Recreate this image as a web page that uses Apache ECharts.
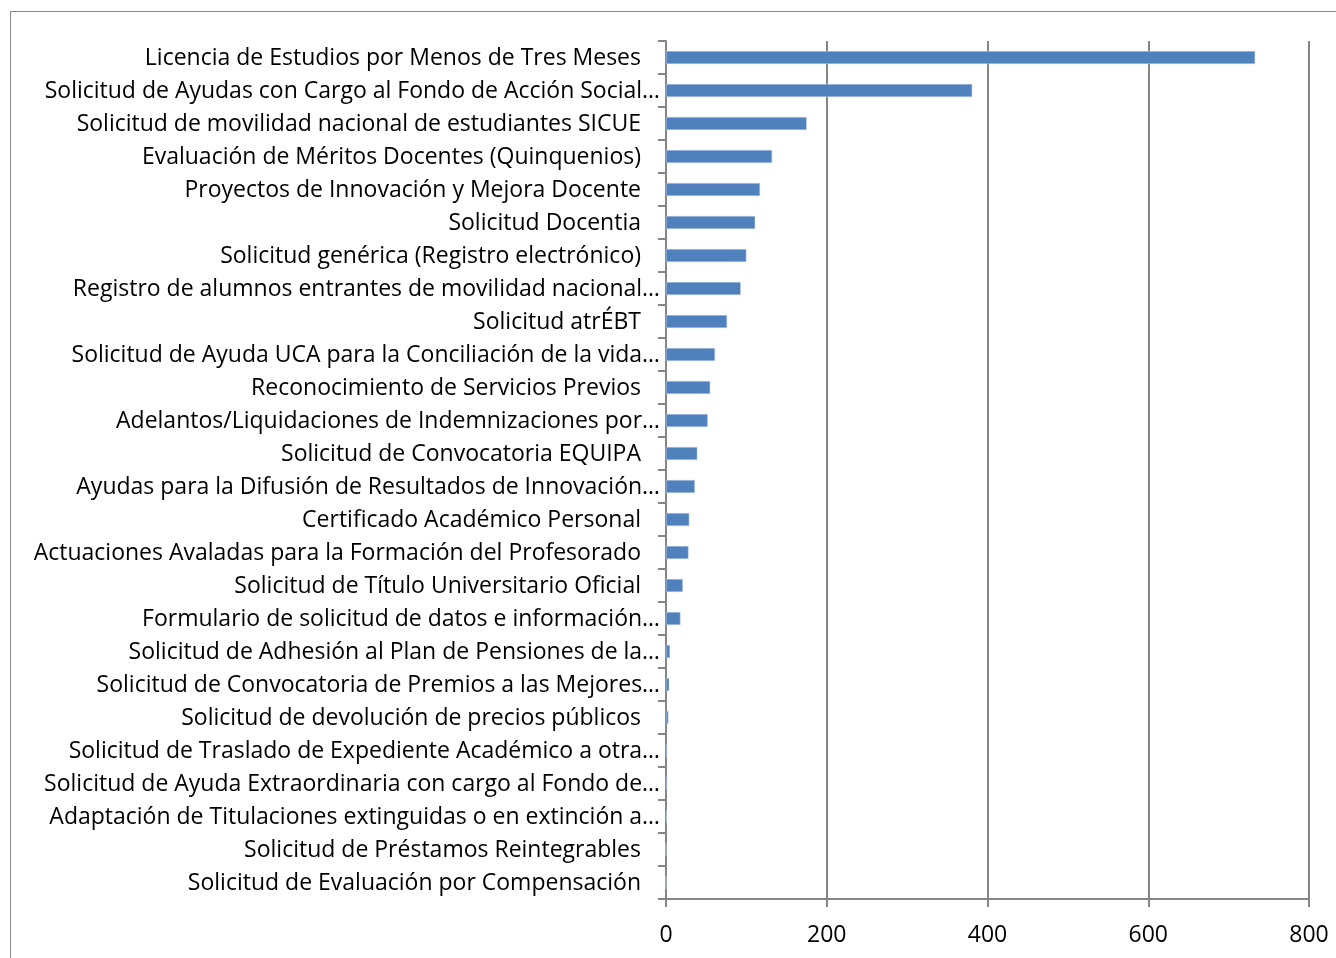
<!DOCTYPE html>
<html>
<head>
<meta charset="utf-8">
<script src="https://cdn.jsdelivr.net/npm/echarts@6/dist/echarts.min.js"></script>
<style>
  html, body { margin: 0; padding: 0; background: #fff; }
  #chart { width: 1336px; height: 958px; }
</style>
</head>
<body>
<div id="chart"></div>
<script>
// categories top to bottom, as shown (long ones are cut off in the original)
const categories = [
  'Licencia de Estudios por Menos de Tres Meses',
  'Solicitud de Ayudas con Cargo al Fondo de Acción Social…',
  'Solicitud de movilidad nacional de estudiantes SICUE',
  'Evaluación de Méritos Docentes (Quinquenios)',
  'Proyectos de Innovación y Mejora Docente',
  'Solicitud Docentia',
  'Solicitud genérica (Registro electrónico)',
  'Registro de alumnos entrantes de movilidad nacional…',
  'Solicitud atrÉBT',
  'Solicitud de Ayuda UCA para la Conciliación de la vida…',
  'Reconocimiento de Servicios Previos',
  'Adelantos/Liquidaciones de Indemnizaciones por…',
  'Solicitud de Convocatoria EQUIPA',
  'Ayudas para la Difusión de Resultados de Innovación…',
  'Certificado Académico Personal',
  'Actuaciones Avaladas para la Formación del Profesorado',
  'Solicitud de Título Universitario Oficial',
  'Formulario de solicitud de datos e información…',
  'Solicitud de Adhesión al Plan de Pensiones de la…',
  'Solicitud de Convocatoria de Premios a las Mejores…',
  'Solicitud de devolución de precios públicos',
  'Solicitud de Traslado de Expediente Académico a otra…',
  'Solicitud de Ayuda Extraordinaria con cargo al Fondo de…',
  'Adaptación de Titulaciones extinguidas o en extinción a…',
  'Solicitud de Préstamos Reintegrables',
  'Solicitud de Evaluación por Compensación'
];
const values = [733, 381, 175, 132, 117, 111, 100, 93, 76, 61, 55, 52, 39, 36, 29, 28, 21, 18, 5, 4, 3, 1.5, 1.5, 1, 0, 0];
const xTicks = [0, 200, 400, 600, 800];

const chart = echarts.init(document.getElementById('chart'));

const option = {
  animation: false,
  textStyle: { fontFamily: 'Open Sans' },
  graphic: [
    { // outer chart-area frame
      type: 'rect',
      shape: { x: 10.5, y: 11.5, width: 1400, height: 1000 },
      style: { fill: 'none', stroke: '#868686', lineWidth: 1 }
    }
  ],
  grid: { left: 666, right: 27, top: 41, bottom: 59 },
  xAxis: {
    type: 'value',
    min: xTicks[0],
    max: xTicks[xTicks.length - 1],
    interval: 200,
    axisLine: { show: true, lineStyle: { color: '#868686', width: 2 } },
    axisTick: { show: true, length: 8, lineStyle: { color: '#868686', width: 2 } },
    splitLine: { show: true, lineStyle: { color: '#868686', width: 2 } },
    axisLabel: { color: '#000', fontSize: 23, margin: 25 }
  },
  yAxis: {
    type: 'category',
    inverse: true,
    data: categories,
    axisLine: { show: true, lineStyle: { color: '#868686', width: 2 } },
    axisTick: { show: true, length: 8, lineStyle: { color: '#868686', width: 2 } },
    axisLabel: {
      color: '#000',
      fontSize: 23,
      margin: 6,
      formatter: function (v) {
        return v.endsWith('…') ? '{cut|' + v + '}' : '{full|' + v + '}';
      },
      rich: {
        cut: { fontSize: 23, color: '#000', padding: [2, 0, 0, 0] },
        full: { fontSize: 23, color: '#000', padding: [2, 19, 0, 0] }
      }
    }
  },
  series: [
    {
      type: 'bar',
      data: values,
      barWidth: 13,
      itemStyle: { color: '#4F81BD', borderColor: '#c6d5ea', borderWidth: 0.5 }
    }
  ]
};

chart.setOption(option);
</script>
</body>
</html>
